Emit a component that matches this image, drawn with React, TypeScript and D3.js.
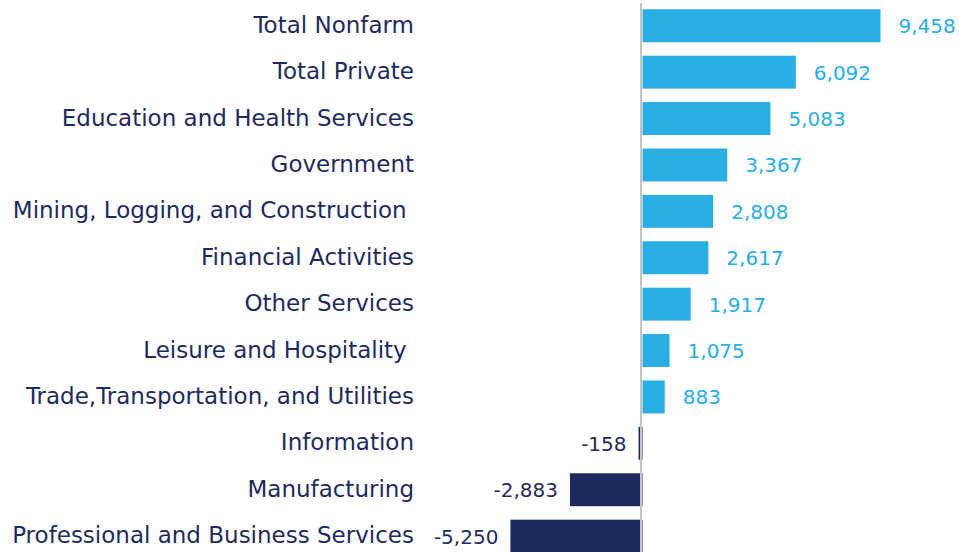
import { useEffect, useRef } from 'react';
import * as d3 from 'd3';

// Data
const categories = [
    'Total Nonfarm',
    'Total Private',
    'Education and Health Services',
    'Government',
    'Mining, Logging, and Construction ',
    'Financial Activities',
    'Other Services',
    'Leisure and Hospitality ',
    'Trade,Transportation, and Utilities',
    'Information',
    'Manufacturing',
    'Professional and Business Services',
];
const values = [9458, 6092, 5083, 3367, 2808, 2617, 1917, 1075, 883, -158, -2883, -5250];

const W = 959;
const H = 552;
const POS = '#29ade3';
const NEG = '#1f2a5c';
const FONT = '"DejaVu Sans", Arial, sans-serif';

const fmt = d3.formatLocale({ decimal: '.', thousands: ',', grouping: [3], currency: ['', ''], minus: '-' }).format(',');

export default function App() {
    const ref = useRef<SVGSVGElement>(null);

    useEffect(() => {
        const svg = d3.select(ref.current);
        svg.selectAll('*').remove();

        const x = d3.scaleLinear().domain([0, 9458]).range([642.5, 880.5]);
        const y = d3.scaleBand<string>().domain(categories).range([9.3, 552.6]).paddingInner(0.29).paddingOuter(0);

        const rows = categories.map((c, i) => ({ c, v: values[i] }));

        // bars
        svg.append('g')
            .selectAll('rect')
            .data(rows)
            .join('rect')
            .attr('x', d => x(Math.min(0, d.v)))
            .attr('y', d => y(d.c)!)
            .attr('width', d => Math.abs(x(d.v) - x(0)))
            .attr('height', y.bandwidth())
            .attr('fill', d => d.v >= 0 ? POS : NEG);

        // zero line
        svg.append('line')
            .attr('x1', 641).attr('x2', 641)
            .attr('y1', 3).attr('y2', H)
            .attr('stroke', '#c4c4c4').attr('stroke-width', 2);

        // category labels
        svg.append('g')
            .selectAll('text')
            .data(rows)
            .join('text')
            .attr('x', 414)
            .attr('y', d => y(d.c)! + y.bandwidth() / 2 - 1)
            .attr('dy', '0.35em')
            .attr('text-anchor', 'end')
            .style('white-space', 'pre')
            .attr('font-family', FONT)
            .attr('font-size', 23)
            .attr('fill', NEG)
            .text(d => d.c);

        // value labels
        svg.append('g')
            .selectAll('text')
            .data(rows)
            .join('text')
            .attr('x', d => d.v >= 0 ? x(d.v) + 18 : x(d.v) - 12)
            .attr('y', d => y(d.c)! + y.bandwidth() / 2 + 0.5)
            .attr('dy', '0.35em')
            .attr('text-anchor', d => d.v >= 0 ? 'start' : 'end')
            .attr('font-family', FONT)
            .attr('font-size', 20)
            .attr('fill', d => d.v >= 0 ? POS : NEG)
            .text(d => fmt(d.v));
    }, []);

    return (
        <svg ref={ref} width={W} height={H}
            style={{ position: 'absolute', left: 0, top: 0, background: '#fff' }} />
    );
}
